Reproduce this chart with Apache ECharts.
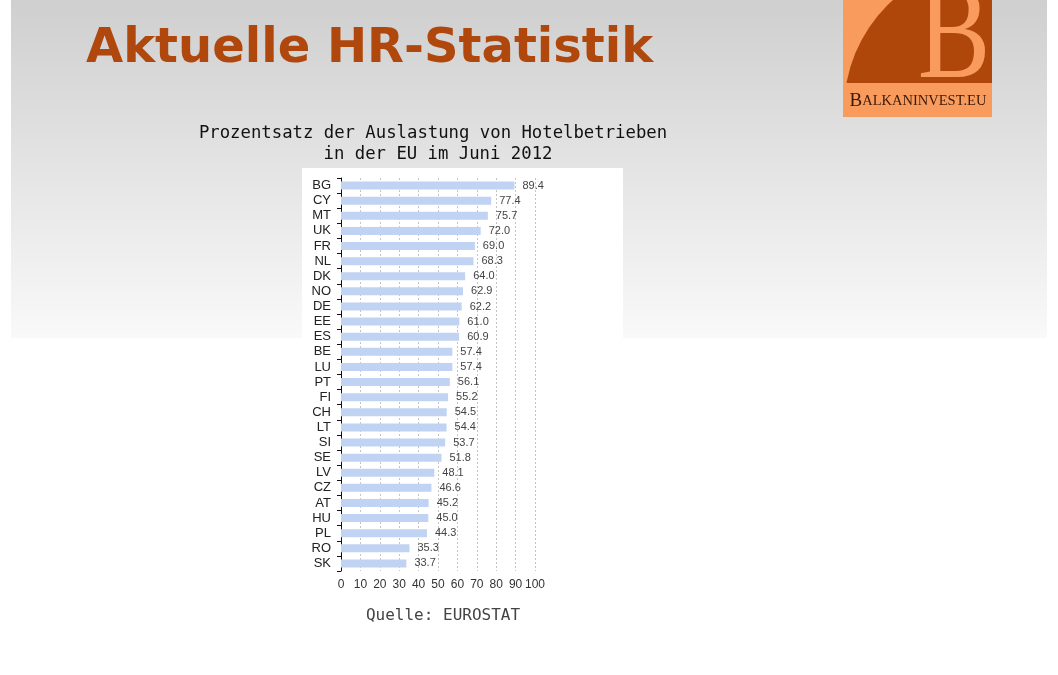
<!DOCTYPE html>
<html>
<head>
<meta charset="utf-8">
<script src="https://cdn.jsdelivr.net/npm/echarts@6/dist/echarts.min.js"></script>
<style>
html,body{margin:0;padding:0;background:#fff;}
#chart{width:1058px;height:675px;}
</style>
</head>
<body>
<div id="chart"></div>
<script>
const pageTitle = 'Aktuelle HR-Statistik';
const chartTitleLines = ['Prozentsatz der Auslastung von Hotelbetrieben', 'in der EU im Juni 2012'];
const sourceText = 'Quelle: EUROSTAT';
const categories = ['BG','CY','MT','UK','FR','NL','DK','NO','DE','EE','ES','BE','LU','PT','FI','CH','LT','SI','SE','LV','CZ','AT','HU','PL','RO','SK'];
const values = [89.4,77.4,75.7,72.0,69.0,68.3,64.0,62.9,62.2,61.0,60.9,57.4,57.4,56.1,55.2,54.5,54.4,53.7,51.8,48.1,46.6,45.2,45.0,44.3,35.3,33.7];
const xTicks = [0,10,20,30,40,50,60,70,80,90,100];

const chart = echarts.init(document.getElementById('chart'));
const option = {
  animation: false,
  backgroundColor: '#ffffff',
  grid: { left: 341, right: 523, top: 178, bottom: 104, containLabel: false },
  xAxis: {
    type: 'value',
    min: xTicks[0],
    max: xTicks[xTicks.length - 1],
    interval: 10,
    axisLine: { show: false },
    axisTick: { show: false },
    axisLabel: { color: '#333', fontSize: 12, fontFamily: 'Liberation Sans, Arial, sans-serif', margin: 8 },
    splitLine: { show: true, lineStyle: { color: '#c4c4c4', type: [2, 2], width: 1 } }
  },
  yAxis: {
    type: 'category',
    data: categories,
    inverse: true,
    axisLine: { show: true, lineStyle: { color: '#111', width: 1 } },
    axisTick: { show: true, inside: false, length: 4, interval: 0, lineStyle: { color: '#111' } },
    axisLabel: { interval: 0, color: '#222', fontSize: 13, fontFamily: 'Liberation Sans, Arial, sans-serif', margin: 10 },
    splitLine: { show: false }
  },
  series: [{
    type: 'bar',
    data: values,
    barWidth: 8,
    itemStyle: { color: '#c0d3f2' },
    label: {
      show: true,
      position: 'right',
      distance: 8,
      color: '#444',
      fontSize: 11,
      fontFamily: 'Liberation Sans, Arial, sans-serif',
      formatter: p => Number(p.value).toFixed(1)
    },
    z: 3
  }],
  graphic: [
    { type: 'rect', z: -20, silent: true, shape: { x: 11, y: 0, width: 1036, height: 338 },
      style: { fill: new echarts.graphic.LinearGradient(0, 0, 0, 1, [
        { offset: 0, color: '#cfcfcf' }, { offset: 1, color: '#f9f9f9' }]) } },
    { type: 'rect', z: -19, silent: true, shape: { x: 302, y: 168, width: 321, height: 470 },
      style: { fill: '#ffffff' } },
    { type: 'text', z: 5, x: 86, y: 50,
      style: { text: pageTitle, font: 'bold 48px "DejaVu Sans"', fill: '#b0470c',
        textAlign: 'left', textVerticalAlign: 'middle' } },
    { type: 'text', z: 5, x: 433, y: 134,
      style: { text: chartTitleLines[0], font: '17.3px "DejaVu Sans Mono"', fill: '#111',
        textAlign: 'center', textVerticalAlign: 'middle' } },
    { type: 'text', z: 5, x: 438, y: 155,
      style: { text: chartTitleLines[1], font: '17.3px "DejaVu Sans Mono"', fill: '#111',
        textAlign: 'center', textVerticalAlign: 'middle' } },
    { type: 'text', z: 5, x: 443, y: 616,
      style: { text: sourceText, font: '16px "DejaVu Sans Mono"', fill: '#444',
        textAlign: 'center', textVerticalAlign: 'middle' } },
    // logo
    { type: 'rect', z: -5, shape: { x: 843, y: 0, width: 149, height: 117 }, style: { fill: '#f99b5d' } },
    { type: 'sector', z: -4, shape: { cx: 992, cy: 110, r0: 0, r: 148, startAngle: Math.PI, endAngle: Math.PI * 1.5 },
      style: { fill: '#ae4709' } },
    { type: 'rect', z: -3, shape: { x: 843, y: 83, width: 149, height: 34 }, style: { fill: '#f99b5d' } },
    { type: 'text', z: -2, x: 954, y: 41, scaleX: 0.8,
      style: { text: 'B', font: '136px "Liberation Serif"', fill: '#f99b5d',
        textAlign: 'center', textVerticalAlign: 'middle' } },
    { type: 'text', z: -1, x: 918, y: 101,
      style: { text: '{a|B}{b|ALKANINVEST.EU}', textAlign: 'center', textVerticalAlign: 'middle',
        rich: {
          a: { fontSize: 19, fontFamily: 'Liberation Serif', fill: '#3a1a08', color: '#3a1a08' },
          b: { fontSize: 14.5, fontFamily: 'Liberation Serif', fill: '#3a1a08', color: '#3a1a08' }
        } } }
  ]
};
chart.setOption(option);
</script>
</body>
</html>
